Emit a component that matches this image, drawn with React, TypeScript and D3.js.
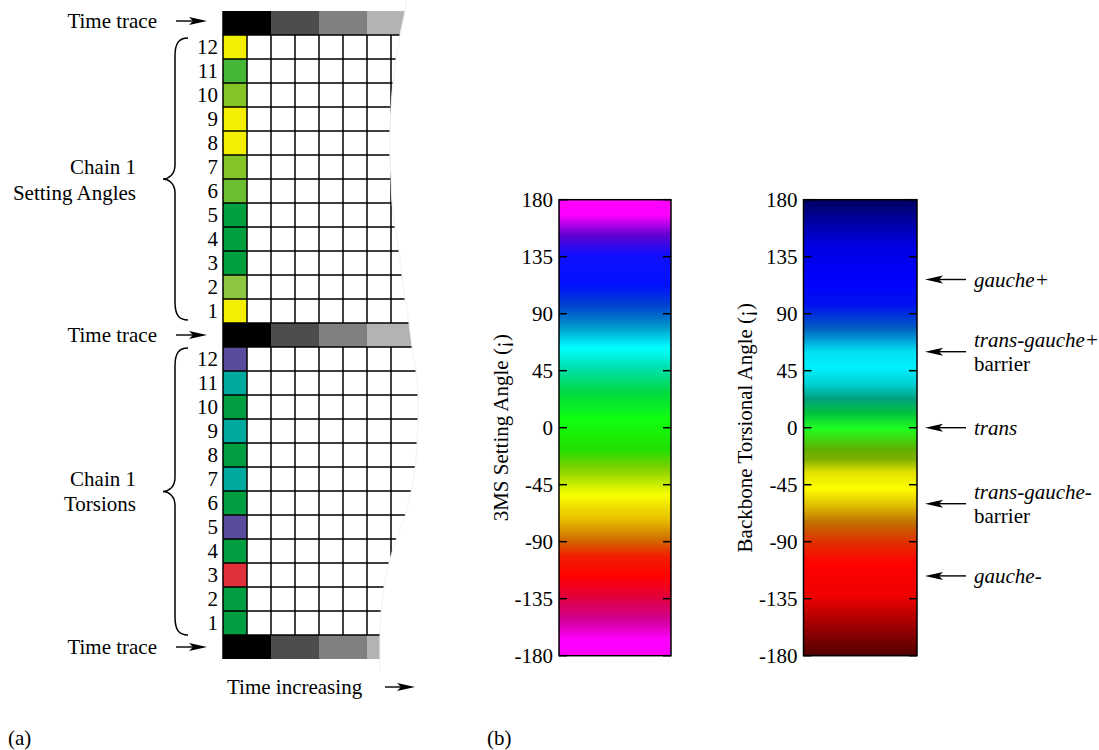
import React from "react";
import * as d3 from "d3";

// ---------- data ----------
const rowNumbers = [12, 11, 10, 9, 8, 7, 6, 5, 4, 3, 2, 1];
const settingColors = ["#f2ef00", "#45b636", "#84c424", "#f2ef00", "#f2ef00", "#84c424", "#6abe30", "#00a040", "#00a040", "#00a040", "#8dc63f", "#f2ef00"];
const torsionColors = ["#5b4b9c", "#00a99d", "#009e40", "#00a99d", "#009e40", "#00a99d", "#009e40", "#5b4b9c", "#009e40", "#e2303a", "#009e40", "#009e40"];
const traceShades = ["#000000", "#000000", "#4d4d4d", "#4d4d4d", "#808080", "#808080", "#b3b3b3", "#b3b3b3"];
const angleTicks = [180, 135, 90, 45, 0, -45, -90, -135, -180];

const settingStopAngles = [180, 168, 152, 136, 113, 97, 81, 63, 47, 28, 7, -17, -32, -53, -72, -88, -101, -117, -135, -151, -167, -180];
const settingStopColors = ["#ff00ff", "#ff00ff", "#6000d0", "#1010ff", "#0010ff", "#0040d0", "#0090c8", "#00ffff", "#00e0b0", "#00d840", "#10ff10", "#20e000", "#80d000", "#f8ff00", "#e8c000", "#d07000", "#f02000", "#ff0000", "#e00040", "#d00090", "#ff00ff", "#ff00ff"];

const torsionStopAngles = [180, 163, 144, 118, 97, 78, 60, 47, 34, 23, 12, -1, -17, -25, -35, -48, -61, -75, -90, -108, -133, -151, -180];
const torsionStopColors = ["#000060", "#0000a0", "#0000e0", "#0000ff", "#0010f0", "#0060c0", "#00e0f0", "#00f0ff", "#00d0d0", "#00a080", "#00c040", "#20ff20", "#60b000", "#80b000", "#e0e000", "#ffff00", "#e0c000", "#c07000", "#e03000", "#ff0000", "#f00000", "#b00000", "#500000"];

const annotationAngles = [117, 60, 0, -60, -117];
const annotationTerms = ["gauche+", "trans-gauche+", "trans", "trans-gauche-", "gauche-"];
const annotationSecond = ["", "barrier", "", "barrier", ""];

// ---------- layout ----------
const FONT = '"Liberation Serif", "Times New Roman", serif';
const FS = 21;
const colX = d3.scaleLinear().domain([0, 8]).range([223, 415]);
const rowY = d3.scaleLinear().domain([0, 27]).range([11, 659]);
const angleY = d3.scaleLinear().domain([180, -180]).range([199.7, 655.7]);
const offsetOf = d3.scaleLinear().domain([180, -180]).range([0, 1]);

// torn right edge of the grid (layout only)
const edgeYs = [0, 11, 35, 59, 83, 107, 131, 155, 179, 203, 227, 251, 275, 299, 323, 347, 371, 395, 420, 444, 468, 492, 516, 540, 563, 587, 612, 635, 659, 672];
const edgeXs = [406, 405, 400, 396, 393, 391, 390, 390, 391, 392, 395, 399, 402, 405, 409, 412, 416, 418, 418, 417, 415, 411, 405, 396, 389, 384, 381, 380, 380, 380];

const edgePts: [number, number][] = edgeYs.map((y, i) => [edgeXs[i], y]);
const edgeLine = d3.line().curve(d3.curveCatmullRom)(edgePts) as string;
const clipD = `M210,0 L${edgeLine.slice(1)} L210,672 Z`;

function brace(yTop: number, yBot: number) {
  const mid = (yTop + yBot) / 2;
  const xv = 175, xe = 188, xt = 163;
  return `M${xe},${yTop} C${xv + 4},${yTop} ${xv},${yTop + 5} ${xv},${yTop + 18} L${xv},${mid - 14} C${xv},${mid - 4} ${xt + 5},${mid} ${xt},${mid} C${xt + 5},${mid} ${xv},${mid + 4} ${xv},${mid + 14} L${xv},${yBot - 18} C${xv},${yBot - 5} ${xv + 4},${yBot} ${xe},${yBot}`;
}

function ArrowRight({ x1, x2, y }: { x1: number; x2: number; y: number }) {
  return (
    <g>
      <line x1={x1} x2={x2 - 10} y1={y} y2={y} stroke="#000" strokeWidth={1.4} />
      <path d={`M${x2},${y} L${x2 - 18},${y - 4} L${x2 - 14},${y} L${x2 - 18},${y + 4} Z`} fill="#000" />
    </g>
  );
}
function ArrowLeft({ x1, x2, y }: { x1: number; x2: number; y: number }) {
  return (
    <g>
      <line x1={x1 + 10} x2={x2} y1={y} y2={y} stroke="#000" strokeWidth={1.4} />
      <path d={`M${x1},${y} L${x1 + 18},${y - 4} L${x1 + 14},${y} L${x1 + 18},${y + 4} Z`} fill="#000" />
    </g>
  );
}

function ColorBar({ id, x0, x1, stopAngles, stopColors, label, labelX }: any) {
  const tickLen = 8;
  return (
    <g>
      <defs>
        <linearGradient id={id} x1="0" y1="0" x2="0" y2="1">
          {stopAngles.map((a: number, i: number) => (
            <stop key={i} offset={offsetOf(a)} stopColor={stopColors[i]} />
          ))}
        </linearGradient>
      </defs>
      <rect x={x0} y={angleY(180)} width={x1 - x0} height={angleY(-180) - angleY(180)} fill={`url(#${id})`} stroke="#000" strokeWidth={1.5} />
      {angleTicks.map((t) => (
        <g key={t}>
          <line x1={x0} x2={x0 + tickLen} y1={angleY(t)} y2={angleY(t)} stroke="#000" strokeWidth={1.5} />
          <line x1={x1 - tickLen} x2={x1} y1={angleY(t)} y2={angleY(t)} stroke="#000" strokeWidth={1.5} />
          <text x={x0 - 6} y={angleY(t) + 7} textAnchor="end" fontSize={FS}>{t}</text>
        </g>
      ))}
      <text transform={`translate(${labelX},${(angleY(180) + angleY(-180)) / 2}) rotate(-90)`} textAnchor="middle" fontSize={FS}>{label}</text>
    </g>
  );
}

export default function App() {
  const traceRows = [0, 13, 26];
  const cellW = colX(1) - colX(0);
  const cellH = rowY(1) - rowY(0);
  return (
    <svg width={1099} height={750} style={{ position: "absolute", left: 0, top: 0, fontFamily: FONT }}>
      <rect width={1099} height={750} fill="#fff" />
      <defs>
        <clipPath id="torn">
          <path d={clipD} />
        </clipPath>
      </defs>

      {/* grid */}
      <g clipPath="url(#torn)">
        {traceRows.map((r) =>
          traceShades.map((c, i) => (
            <rect key={`t${r}-${i}`} x={colX(i)} y={rowY(r)} width={cellW + 0.5} height={cellH} fill={c} />
          ))
        )}
        {settingColors.map((c, i) => (
          <rect key={`s${i}`} x={colX(0)} y={rowY(1 + i)} width={cellW} height={cellH} fill={c} />
        ))}
        {torsionColors.map((c, i) => (
          <rect key={`r${i}`} x={colX(0)} y={rowY(14 + i)} width={cellW} height={cellH} fill={c} />
        ))}
        {d3.range(1, 27).map((k) => (
          <line key={`h${k}`} x1={colX(0)} x2={440} y1={rowY(k)} y2={rowY(k)} stroke="#000" strokeWidth={1.5} />
        ))}
        {[1, 14].map((start) =>
          d3.range(1, 8).map((c) => (
            <line key={`v${start}-${c}`} x1={colX(c)} x2={colX(c)} y1={rowY(start)} y2={rowY(start + 12)} stroke="#000" strokeWidth={1.5} />
          ))
        )}
        <line x1={colX(0)} x2={colX(0)} y1={rowY(0)} y2={rowY(27)} stroke="#000" strokeWidth={1.5} />
      </g>
      <path d={edgeLine} fill="none" stroke="#f2f2f2" strokeWidth={1} />

      {/* row numbers */}
      {rowNumbers.map((n, i) => (
        <text key={`a${n}`} x={218} y={rowY(1 + i) + cellH / 2 + 7} textAnchor="end" fontSize={FS}>{n}</text>
      ))}
      {rowNumbers.map((n, i) => (
        <text key={`b${n}`} x={218} y={rowY(14 + i) + cellH / 2 + 7} textAnchor="end" fontSize={FS}>{n}</text>
      ))}

      {/* time trace labels */}
      {[21, (rowY(13) + rowY(14)) / 2, (rowY(26) + rowY(27)) / 2].map((y, i) => (
        <g key={`tt${i}`}>
          <text x={157} y={y + 7} textAnchor="end" fontSize={FS}>Time trace</text>
          <ArrowRight x1={176} x2={207} y={y} />
        </g>
      ))}

      {/* braces */}
      <path d={brace(38, 320)} fill="none" stroke="#000" strokeWidth={1.5} />
      <path d={brace(348, 635)} fill="none" stroke="#000" strokeWidth={1.5} />
      <text x={136} y={179 - 5} textAnchor="end" fontSize={FS}>Chain 1</text>
      <text x={136} y={179 + 21} textAnchor="end" fontSize={FS}>Setting Angles</text>
      <text x={136} y={491.5 - 6} textAnchor="end" fontSize={FS}>Chain 1</text>
      <text x={136} y={491.5 + 19} textAnchor="end" fontSize={FS}>Torsions</text>

      <text x={227} y={694} fontSize={FS}>Time increasing</text>
      <ArrowRight x1={385} x2={415} y={687} />

      <text x={8} y={745} fontSize={FS}>(a)</text>
      <text x={487} y={745} fontSize={FS}>(b)</text>

      <ColorBar id="gSet" x0={559} x1={671} stopAngles={settingStopAngles} stopColors={settingStopColors} label="3MS Setting Angle (¡)" labelX={508} />
      <ColorBar id="gTor" x0={803.5} x1={917} stopAngles={torsionStopAngles} stopColors={torsionStopColors} label="Backbone Torsional Angle (¡)" labelX={751.5} />

      {/* annotations */}
      {annotationAngles.map((a, i) => {
        const y = angleY(a);
        const two = annotationSecond[i] !== "";
        return (
          <g key={`an${i}`}>
            <ArrowLeft x1={925} x2={966} y={y} />
            <text x={974} y={two ? y - 5 : y + 7} fontSize={FS} fontStyle="italic">{annotationTerms[i]}</text>
            {two && <text x={974} y={y + 19} fontSize={FS}>{annotationSecond[i]}</text>}
          </g>
        );
      })}
    </svg>
  );
}
